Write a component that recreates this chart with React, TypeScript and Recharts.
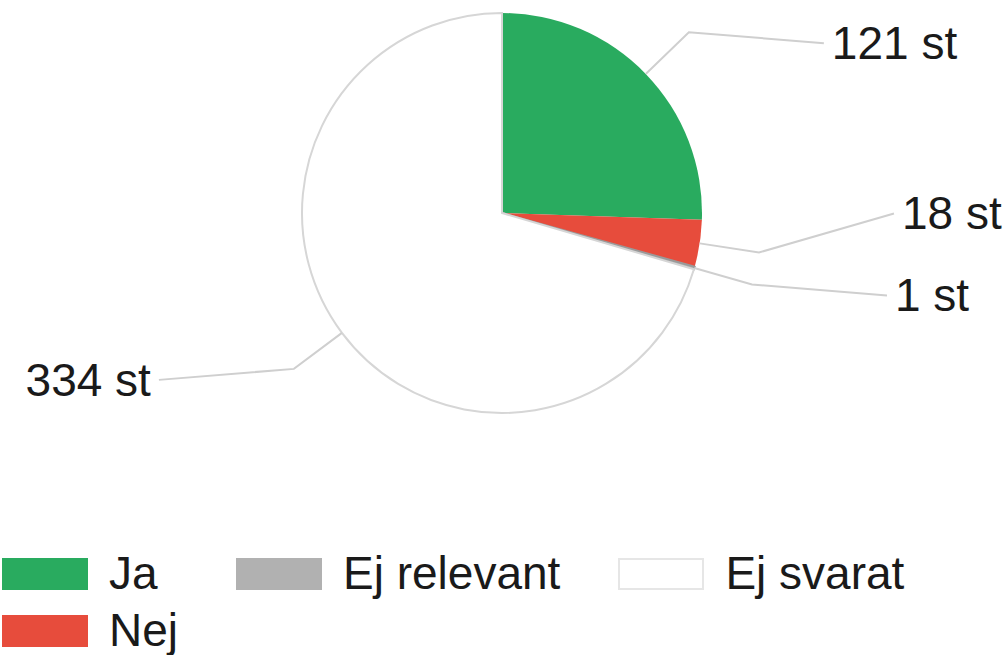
import React from 'react';
import { PieChart, Pie, Cell, Legend } from 'recharts';

const categories = ['Ja', 'Nej', 'Ej relevant', 'Ej svarat'];
const counts = [121, 18, 1, 334];
const fills = ['#29ab5f', '#e74c3c', '#b1b1b1', '#ffffff'];
const strokes = ['none', 'none', '#9a9a9a', '#d6d6d6'];
const legendOrder = ['Ja', 'Ej relevant', 'Ej svarat', 'Nej'];
const unit = 'st';

const data = categories.map((name, i) => ({ name, value: counts[i] }));

const W = 1004;
const H = 655;
const CX = 502;
const CY = 213;
const R = 200;
const ELBOW = 60;
const RUN = 135;
const GAP = 8;
const SPACING = 82;
const FONT = '"Liberation Sans", Arial, sans-serif';
const RAD = Math.PI / 180;

// compute label layout (mid angles from data, collision avoidance on each side)
function computeLayout() {
  const total = counts.reduce((a, b) => a + b, 0);
  let start = 90;
  const items = counts.map((v, i) => {
    const delta = (-360 * v) / total;
    const mid = start + delta / 2;
    start += delta;
    const ex = CX + Math.cos(mid * RAD) * (R + ELBOW);
    const ey = CY - Math.sin(mid * RAD) * (R + ELBOW);
    const right = Math.cos(mid * RAD) >= 0;
    return { i, mid, ex, ey, right, y: ey + 11 };
  });
  [true, false].forEach((side) => {
    const s = items.filter((it) => it.right === side).sort((a, b) => a.y - b.y);
    for (let k = s.length - 2; k >= 0; k--) {
      if (s[k].y > s[k + 1].y - SPACING) s[k].y = s[k + 1].y - SPACING;
    }
  });
  return items;
}
const layout = computeLayout();

const renderLabel = (props: any) => {
  const { cx, cy, midAngle, outerRadius, index, value } = props;
  const cos = Math.cos(-midAngle * RAD);
  const sin = Math.sin(-midAngle * RAD);
  const sx = cx + outerRadius * cos;
  const sy = cy + outerRadius * sin;
  const mx = cx + (outerRadius + ELBOW) * cos;
  const my = cy + (outerRadius + ELBOW) * sin;
  const right = cos >= 0;
  const ly = layout[index].y;
  const lx = mx + (right ? RUN : -RUN);
  return (
    <g key={`lbl-${index}`}>
      <polyline
        points={`${sx},${sy} ${mx},${my} ${lx},${ly}`}
        fill="none"
        stroke="#cfcfcf"
        strokeWidth={2}
      />
      <text
        x={lx + (right ? GAP : -GAP)}
        y={ly}
        textAnchor={right ? 'start' : 'end'}
        dominantBaseline="central"
        fontFamily={FONT}
        fontSize={46}
        fill="#1a1a1a"
      >
        {`${value} ${unit}`}
      </text>
    </g>
  );
};

const LegendContent = () => (
  <div
    style={{
      display: 'grid',
      gridTemplateColumns: 'repeat(3, auto)',
      gridTemplateRows: 'repeat(2, 57px)',
      justifyContent: 'start',
      columnGap: 58,
      fontFamily: FONT,
      fontSize: 46,
      color: '#1a1a1a',
    }}
  >
    {legendOrder.map((name) => {
      const i = categories.indexOf(name);
      return (
        <div key={name} style={{ display: 'flex', alignItems: 'center' }}>
          <div
            style={{
              width: 86,
              height: 32,
              boxSizing: 'border-box',
              background: fills[i],
              border: fills[i] === '#ffffff' ? '2px solid #e6e6e6' : 'none',
              marginRight: 21,
            }}
          />
          <span style={{ lineHeight: '57px' }}>{name}</span>
        </div>
      );
    })}
  </div>
);

export default function App() {
  return (
    <div style={{ position: 'absolute', left: 0, top: 0, width: W, height: H, background: '#fff' }}>
      <PieChart width={W} height={H} margin={{ top: 0, right: 0, bottom: 0, left: 0 }}>
        <Pie
          data={data}
          dataKey="value"
          nameKey="name"
          cx={CX}
          cy={CY}
          outerRadius={R}
          startAngle={90}
          endAngle={-270}
          isAnimationActive={false}
          label={renderLabel}
          labelLine={false}
        >
          {data.map((d, i) => (
            <Cell key={d.name} fill={fills[i]} stroke={strokes[i]} strokeWidth={2} />
          ))}
        </Pie>
        <Legend
          verticalAlign="bottom"
          content={<LegendContent />}
          wrapperStyle={{ top: 545, bottom: 'auto', left: 2, width: 'auto' }}
        />
      </PieChart>
    </div>
  );
}
